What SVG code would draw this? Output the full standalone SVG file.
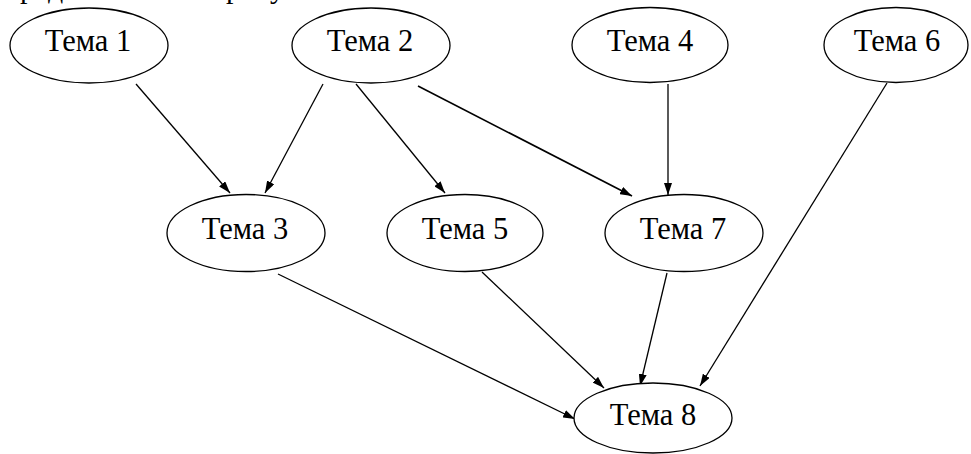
<svg xmlns="http://www.w3.org/2000/svg" width="971" height="454" viewBox="0 0 971 454">
  <style>
    .node ellipse { fill: #ffffff; stroke: #000000; stroke-width: 1.3; }
    .node text { font-family: "Liberation Serif", "Times New Roman", serif; font-size: 30.5px; fill: #000000; text-anchor: middle; }
    .edge { stroke: #000000; stroke-width: 1.3; fill: none; marker-end: url(#arrow); }
    .caption { font-family: "Liberation Serif", "Times New Roman", serif; font-size: 30px; fill: #000000; }
  </style>
  <defs>
    <marker id="arrow" viewBox="0 0 12 8" refX="12" refY="4" markerWidth="12" markerHeight="8" markerUnits="userSpaceOnUse" orient="auto">
      <path d="M0,0 L12,4 L0,8 Z" fill="#000000"/>
    </marker>
  </defs>
  <rect width="971" height="454" fill="#ffffff"/>

  <!-- tail of the preceding paragraph line, running off the top edge -->
  <text class="caption" x="4" y="-2">представлены на рисунке 5.</text>

  <g id="edges">
    <line class="edge" x1="136" y1="84" x2="230" y2="193"/>
    <line class="edge" x1="323" y1="84" x2="265" y2="193"/>
    <line class="edge" x1="356" y1="84" x2="445" y2="193"/>
    <line class="edge" x1="418" y1="86" x2="632" y2="196" style="stroke-width:1.6"/>
    <line class="edge" x1="668" y1="84" x2="668" y2="195"/>
    <line class="edge" x1="887" y1="83" x2="700" y2="386"/>
    <line class="edge" x1="278" y1="274" x2="575" y2="419"/>
    <line class="edge" x1="482" y1="272" x2="604" y2="388"/>
    <line class="edge" x1="667" y1="273" x2="640" y2="386"/>
  </g>

  <g id="n1" class="node">
    <ellipse cx="89" cy="45.5" rx="79" ry="37.5"/>
    <text x="88" y="51">Тема 1</text>
  </g>
  <g id="n2" class="node">
    <ellipse cx="371" cy="45.5" rx="79" ry="37.5"/>
    <text x="370" y="51">Тема 2</text>
  </g>
  <g id="n4" class="node">
    <ellipse cx="650" cy="45" rx="78" ry="37.5"/>
    <text x="650" y="51">Тема 4</text>
  </g>
  <g id="n6" class="node">
    <ellipse cx="896" cy="45" rx="72" ry="37.5"/>
    <text x="897" y="51">Тема 6</text>
  </g>
  <g id="n3" class="node">
    <ellipse cx="246" cy="233" rx="79" ry="38.5"/>
    <text x="245" y="239">Тема 3</text>
  </g>
  <g id="n5" class="node">
    <ellipse cx="465" cy="233" rx="78" ry="38.5"/>
    <text x="465" y="239">Тема 5</text>
  </g>
  <g id="n7" class="node">
    <ellipse cx="684" cy="233" rx="79" ry="38.5"/>
    <text x="683" y="239">Тема 7</text>
  </g>
  <g id="n8" class="node">
    <ellipse cx="653" cy="418" rx="79" ry="35"/>
    <text x="653" y="425">Тема 8</text>
  </g>
</svg>
